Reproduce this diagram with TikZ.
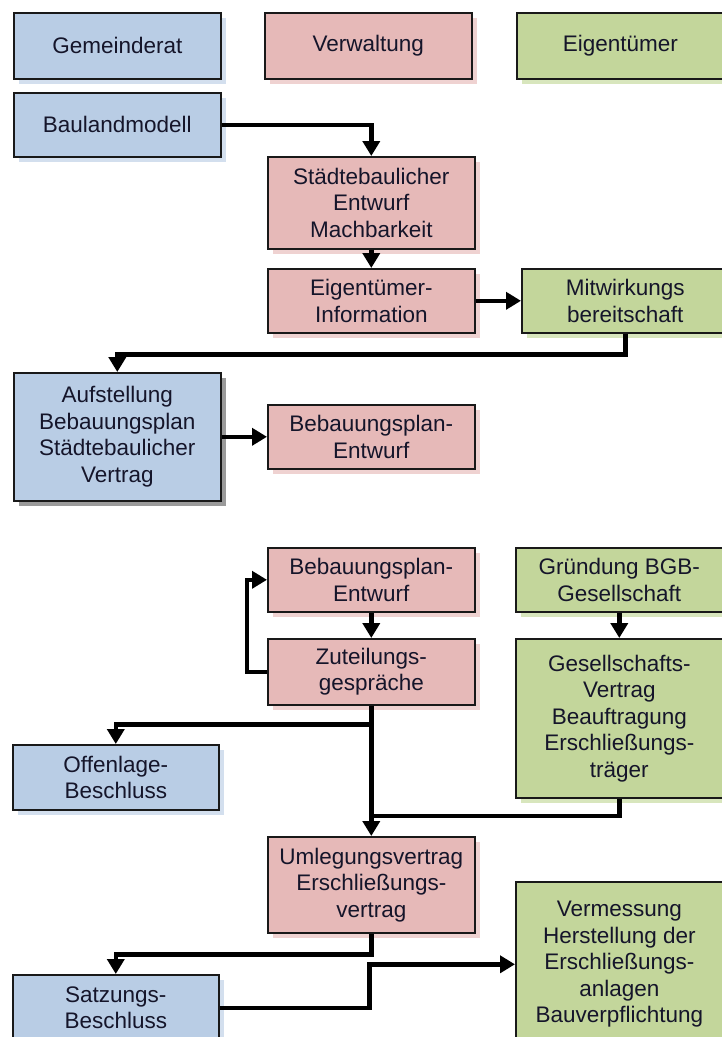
\documentclass[tikz,border=0pt]{standalone}
\usepackage{fontspec}
\setmainfont{Liberation Sans}
\usetikzlibrary{arrows.meta,shadows}
\definecolor{bfill}{HTML}{B9CDE5}
\definecolor{pfill}{HTML}{E6B9B8}
\definecolor{gfill}{HTML}{C3D69B}
\definecolor{bshad}{HTML}{D3DFEE}
\definecolor{pshad}{HTML}{EFD2D1}
\definecolor{gshad}{HTML}{D8E6BD}
\definecolor{gshadgray}{HTML}{9A9A9A}
\definecolor{txt}{HTML}{15152A}
\begin{document}
\begin{tikzpicture}[x=1pt,y=-1pt,
  box/.style={draw=black!90,line width=1.6pt,rectangle,anchor=north west,
    minimum width=207pt,align=center,inner sep=0pt,text=txt,
    font=\fontsize{22.5}{26.5}\selectfont},
  bbox/.style={box,fill=bfill,drop shadow={shadow xshift=5pt,shadow yshift=-5pt,fill=bshad,opacity=1}},
  pbox/.style={box,fill=pfill,drop shadow={shadow xshift=5pt,shadow yshift=-5pt,fill=pshad,opacity=1}},
  gbox/.style={box,fill=gfill,drop shadow={shadow xshift=5pt,shadow yshift=-5pt,fill=gshad,opacity=1}},
  conn/.style={line width=4.5pt,black,-{Triangle[length=15pt,width=17pt]}},
  plain/.style={line width=4.5pt,black}]
\useasboundingbox[fill=white] (0,0) rectangle (721,1037);
% header
\node[bbox,minimum height=66pt] (gem) at (13,12) {Gemeinderat};
\node[pbox,minimum height=66pt] (verw) at (264,12) {Verwaltung};
\node[gbox,minimum height=66pt] (eig) at (516,12) {Eigentümer};
% upper part
\node[bbox,minimum height=64pt] (bau) at (13,92) {Baulandmodell};
\node[pbox,minimum height=92pt] (sted) at (267,156) {Städtebaulicher\\Entwurf\\Machbarkeit};
\node[pbox,minimum height=64pt] (einf) at (267,268) {Eigentümer-\\Information};
\node[gbox,minimum height=64pt] (mitw) at (521,268) {Mitwirkungs\\bereitschaft};
\node[box,fill=bfill,minimum height=128pt,drop shadow={shadow xshift=5pt,shadow yshift=-5pt,fill=gshadgray,opacity=1}] (aufst) at (13,372) {Aufstellung\\Bebauungsplan\\Städtebaulicher\\Vertrag};
\node[pbox,minimum height=64pt] (bpe1) at (267,404) {Bebauungsplan-\\Entwurf};
% lower part
\node[pbox,minimum height=64pt] (bpe2) at (267,547) {Bebauungsplan-\\Entwurf};
\node[pbox,minimum height=66pt] (zut) at (267,638) {Zuteilungs-\\gespräche};
\node[gbox,minimum height=64pt] (grue) at (515,547) {Gründung BGB-\\Gesellschaft};
\node[gbox,minimum height=159pt] (gesv) at (515,638) {Gesellschafts-\\Vertrag\\Beauftragung\\Erschließungs-\\träger};
\node[bbox,minimum width=206pt,minimum height=65pt] (offen) at (12,744) {Offenlage-\\Beschluss};
\node[pbox,minimum height=96pt] (umleg) at (267,836) {Umlegungsvertrag\\Erschließungs-\\vertrag};
\node[gbox,minimum height=165pt] (verm) at (515,881) {Vermessung\\Herstellung der\\Erschließungs-\\anlagen\\Bauverpflichtung};
\node[bbox,minimum width=206pt,minimum height=66pt] (satz) at (12,974) {Satzungs-\\Beschluss};
\coordinate (j2) at (370.5,816);
% connectors
\draw[conn] (bau.east) -| (sted.north);
\draw[conn] (sted.south) -- (einf.north);
\draw[conn] (einf.east) -- (mitw.west);
\draw[conn] (mitw.south) -- ++(0,21) -| (aufst.north);
\draw[conn] (aufst.east) -- (bpe1.west);
\draw[conn] (bpe2.south) -- (zut.north);
\draw[conn] (zut.west) -- ++(-20,0) |- (bpe2.west);
\draw[conn] (zut.south) -- (umleg.north);
\draw[conn] (zut.south) -- ++(0,19) -| (offen.north);
\draw[conn] (grue.south) -- (gesv.north);
\draw[plain] (gesv.south) |- (j2);
\draw[conn] (umleg.south) -- ++(0,21) -| (satz.north);
\draw[conn] (satz.east) -- ++(150,0) |- (verm.west);
\end{tikzpicture}
\end{document}
